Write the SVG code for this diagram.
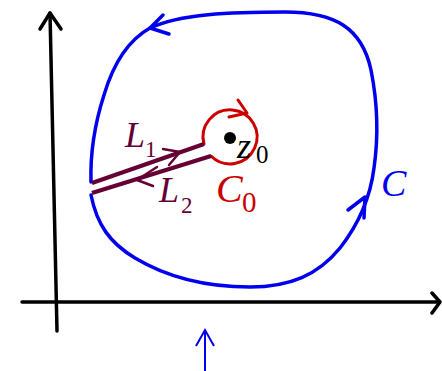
<svg xmlns="http://www.w3.org/2000/svg" width="442" height="371" viewBox="0 0 442 371">
<style>
.ax{fill:none;stroke:#000;stroke-width:3.5;stroke-linecap:round;stroke-linejoin:round}
.blue{fill:none;stroke:#0000ee;stroke-width:3.5;stroke-linecap:round;stroke-linejoin:round}
.red{fill:none;stroke:#cc0000;stroke-width:3;stroke-linecap:round;stroke-linejoin:round}
.mar{fill:none;stroke:#650035;stroke-width:4;stroke-linecap:butt}
.marh{fill:none;stroke:#650035;stroke-width:2.5;stroke-linecap:round;stroke-linejoin:round}
.t{font-family:"Liberation Serif","Times New Roman",serif;font-style:italic}
.s{font-family:"Liberation Serif","Times New Roman",serif}
</style>
<g id="axes">
<path class="ax" d="M57,331 L50,13"/>
<path class="ax" d="M40,29 L50,13 L61,29"/>
<path class="ax" d="M22,302 L439,302"/>
<path class="ax" d="M432,293 L440,302 L432,313"/>
</g>
<g id="contour-C">
<path class="blue" d="M91,182 C90,150 96,120 104,95 C112,68 125,42 150,28 C180,14 230,12 285,12 C335,12 362,28 371,70 C378,105 378,140 374,168 C370,200 358,225 340,248 C318,275 290,287 250,287 C205,287 165,276 135,258 C110,243 97,225 91,195"/>
<path class="blue" d="M163,15 L150,28 L169,34"/>
<path class="blue" d="M348,210 L365,197 L364,218"/>
<text class="t" x="381" y="196" font-size="38" fill="#0000ee">C</text>
</g>
<g id="contour-C0">
<path class="red" d="M204,144 A27,27 0 1 1 211,156"/>
<path class="red" d="M238,100 L247,113 L229,117"/>
<text class="t" x="216" y="202" font-size="40" fill="#cc0000">C</text>
<text class="s" x="242" y="212" font-size="29" fill="#cc0000">0</text>
</g>
<g id="point-z0">
<circle cx="230" cy="138" r="6" fill="#000"/>
<text class="t" x="237" y="158" font-size="36" fill="#000">z</text>
<text class="s" x="256" y="163" font-size="25" fill="#000">0</text>
</g>
<g id="connectors">
<path class="mar" d="M92,183 L204,144"/>
<path class="mar" d="M92,193 L211,156"/>
<path class="marh" d="M163,149 L180,152 L169,165"/>
<path class="marh" d="M157,167 L137,180 L153,186"/>
<path fill="none" stroke="#0000ee" stroke-width="2" d="M205,371 L205,330 M196,346 L205,330 L214,346"/>
</g>
<g id="labels-L">
<text class="t" x="125" y="147" font-size="36" fill="#650035">L</text>
<text class="s" x="145" y="157" font-size="23" fill="#650035">1</text>
<text class="t" x="159" y="202" font-size="36" fill="#650035">L</text>
<text class="s" x="181" y="213" font-size="23" fill="#650035">2</text>
</g>
</svg>
